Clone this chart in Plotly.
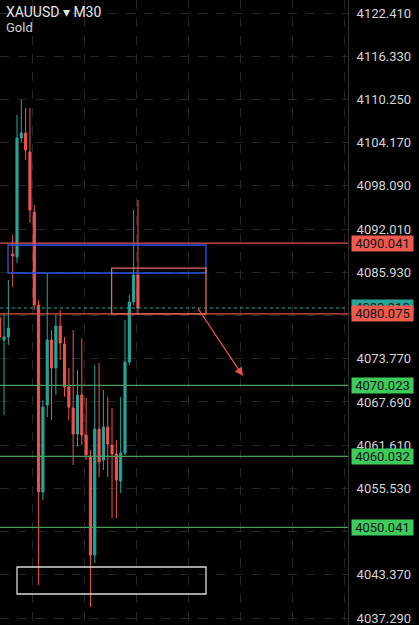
import plotly.graph_objects as go

# XAUUSD M30 candles (bar index = position on the chart)
bar_index = list(range(33))
opens = [4079.50, 4076.40, 4076.83, 4088.50, 4088.08, 4104.82, 4105.53, 4102.85, 4094.41, 4081.33,
         4055.02, 4067.26, 4076.40, 4072.47, 4078.37, 4075.84, 4069.79, 4066.84, 4063.18, 4068.67,
         4063.04, 4060.08, 4046.16, 4063.88, 4059.52, 4064.16, 4061.63, 4060.37, 4056.57, 4060.51,
         4073.31, 4081.75, 4085.55]
highs = [4080.06, 4080.20, 4084.85, 4091.18, 4108.06, 4110.17, 4109.04, 4109.04, 4095.40, 4082.03,
         4067.96, 4085.83, 4077.81, 4079.92, 4080.63, 4076.83, 4072.47, 4077.81, 4072.18, 4076.69,
         4068.24, 4060.93, 4072.89, 4073.17, 4069.37, 4068.39, 4066.84, 4062.34, 4068.39, 4079.22,
         4082.74, 4094.69, 4096.10]
lows = [4076.40, 4065.85, 4075.70, 4083.86, 4087.24, 4104.26, 4101.73, 4092.87, 4080.63, 4041.94,
        4053.89, 4065.57, 4065.15, 4068.67, 4073.59, 4068.39, 4065.15, 4058.82, 4061.35, 4061.63,
        4059.52, 4038.84, 4045.03, 4057.13, 4058.11, 4057.13, 4051.36, 4051.36, 4054.88, 4060.23,
        4072.89, 4081.33, 4079.92]
closes = [4076.83, 4076.83, 4078.09, 4088.22, 4104.82, 4105.53, 4103.14, 4094.69, 4081.33, 4055.02,
          4066.98, 4076.40, 4072.47, 4078.37, 4075.98, 4069.79, 4066.98, 4063.18, 4068.67, 4063.04,
          4060.23, 4046.16, 4063.88, 4059.24, 4064.16, 4061.77, 4060.37, 4056.71, 4060.51, 4073.31,
          4081.75, 4085.55, 4080.91]

# price scale labels on the right (two are fully hidden behind the level tags)
price_ticks = [4122.410, 4116.330, 4110.250, 4104.170, 4098.090, 4092.010, 4085.930, 4079.850,
               4073.770, 4067.690, 4061.610, 4055.530, 4049.450, 4043.370, 4037.290]
hidden_ticks = [4079.850, 4049.450]

# drawn levels
resistance_levels = [4090.041, 4080.075]
support_levels = [4070.023, 4060.032, 4050.041]
last_price = 4080.91

# drawn zones: (bar from, bar to, price low, price high)
blue_zone = (1.92, 47.75, 4085.83, 4089.77)
red_zone = (25.9, 47.75, 4080.075, 4086.53)
white_zone = (4.0, 47.75, 4040.67, 4044.47)
# projection arrow: (bar, price) start -> end
arrow_start = (45.67, 4081.05)
arrow_end = (56.3, 4071.34)

BG = "#000000"
GRID = "#262626"
TEAL = "#26a69a"
RED = "#ef5350"
GREEN_LINE = "#4a9e5c"
GREEN_TAG = "#3ccb5c"
RED_TAG = "#f05a4e"
FONT = "Roboto"

W, H = 419, 625
PLOT_W = 348

fig = go.Figure()
fig.add_trace(
    go.Candlestick(
        x=bar_index,
        open=opens,
        high=highs,
        low=lows,
        close=closes,
        increasing={"line": {"color": TEAL, "width": 1}, "fillcolor": TEAL},
        decreasing={"line": {"color": RED, "width": 1}, "fillcolor": RED},
        whiskerwidth=0,
        showlegend=False,
        hoverinfo="skip",
    )
)

shapes = []
for level in resistance_levels:
    shapes.append(dict(type="line", xref="paper", x0=0, x1=1, y0=level, y1=level,
                       line={"color": "#e0524a", "width": 1.3}))
for level in support_levels:
    shapes.append(dict(type="line", xref="paper", x0=0, x1=1, y0=level, y1=level,
                       line={"color": GREEN_LINE, "width": 1.3}))
shapes.append(dict(type="line", xref="paper", x0=0, x1=1, y0=last_price, y1=last_price,
                   line={"color": TEAL, "width": 1, "dash": "dot"}))

for zone, color in [(blue_zone, "#2b55e6"), (red_zone, "#e06a5f"), (white_zone, "#d9d9d9")]:
    shapes.append(dict(type="rect", x0=zone[0], x1=zone[1], y0=zone[2], y1=zone[3],
                       line={"color": color, "width": 1.3}, fillcolor="rgba(0,0,0,0)"))

annotations = [
    dict(x=arrow_end[0], y=arrow_end[1], ax=arrow_start[0], ay=arrow_start[1],
         xref="x", yref="y", axref="x", ayref="y", text="", showarrow=True,
         arrowhead=2, arrowsize=1.3, arrowwidth=1.3, arrowcolor="#e8534a"),
    dict(x=4 / PLOT_W, y=1 - 12 / H, xref="paper", yref="paper", xanchor="left", yanchor="middle",
         text="XAUUSD \u25be M30", showarrow=False, font={"family": FONT, "size": 14, "color": "#e6e6e6"}),
    dict(x=4 / PLOT_W, y=1 - 27 / H, xref="paper", yref="paper", xanchor="left", yanchor="middle",
         text="Gold", showarrow=False, font={"family": FONT, "size": 13, "color": "#cfcfcf"}),
]


def price_tag(value, bg):
    return dict(x=(PLOT_W + 3) / PLOT_W, y=value, xref="paper", yref="y",
                xanchor="left", yanchor="middle", text=f"{value:.3f}", showarrow=False,
                bgcolor=bg, borderpad=0, width=61, align="center",
                font={"family": FONT, "size": 13, "color": "#151515"})


# last-price tag sits mostly under the 4080.075 tag
annotations.append(price_tag(last_price, TEAL))
for level in resistance_levels:
    annotations.append(price_tag(level, RED_TAG))
for level in support_levels:
    annotations.append(price_tag(level, GREEN_TAG))

px_per_bar = 4.32
x_left = 0.28 / px_per_bar
fig.update_layout(
    width=W,
    height=H,
    margin={"l": 0, "r": W - PLOT_W, "t": 0, "b": 0},
    paper_bgcolor=BG,
    plot_bgcolor=BG,
    shapes=shapes,
    annotations=annotations,
    xaxis=dict(
        range=[x_left, x_left + PLOT_W / px_per_bar],
        rangeslider={"visible": False},
        showticklabels=False,
        tickmode="linear",
        tick0=7.7,
        dtick=12,
        showgrid=True,
        gridcolor=GRID,
        griddash="dash",
        zeroline=False,
        fixedrange=True,
    ),
    yaxis=dict(
        side="right",
        range=[4122.41 - 612 / 7.108, 4122.41 + 13 / 7.108],
        tickmode="array",
        tickvals=price_ticks,
        ticktext=["" if v in hidden_ticks else f"{v:.3f}" for v in price_ticks],
        tickfont={"family": FONT, "size": 13, "color": "#d4d4d4"},
        ticklabelstandoff=5,
        ticklabeloverflow="allow",
        showgrid=True,
        gridcolor=GRID,
        griddash="dash",
        showline=True,
        linecolor="#2e2e2e",
        linewidth=1,
        zeroline=False,
        ticks="",
    ),
)

# the page gets the body's default 8px margin otherwise, which pushes the chart off the window
fig.write_html(
    "out.html",
    config={"displayModeBar": False},
    post_script="document.body.style.margin='0';",
)
